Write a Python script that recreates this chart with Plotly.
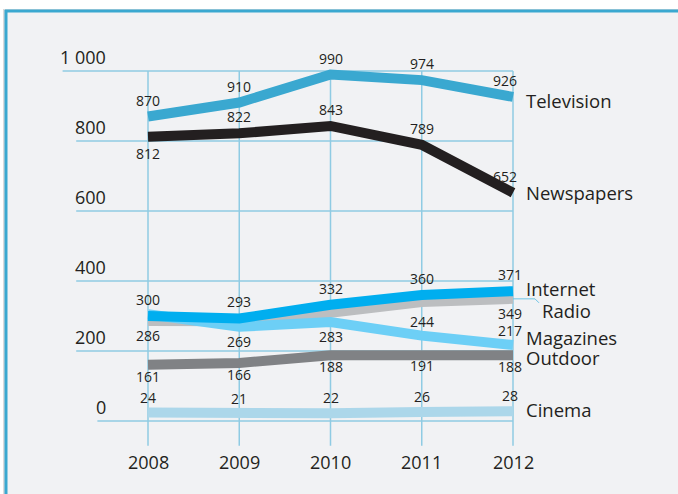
import plotly.graph_objects as go

# --- data ---
years = [2008, 2009, 2010, 2011, 2012]
television = [870, 910, 990, 974, 926]
newspapers = [812, 822, 843, 789, 652]
internet = [300, 293, 332, 360, 371]
radio = [286, 285, 309, 340, 349]
magazines = [305, 269, 283, 244, 217]
outdoor = [161, 166, 188, 191, 188]
cinema = [24, 21, 22, 26, 28]

# value labels printed at the points ("" = no label)
television_lbl = ["870", "910", "990", "974", "926"]
newspapers_lbl = ["812", "822", "843", "789", "652"]
internet_lbl = ["300", "293", "332", "360", "371"]
radio_lbl = ["286", "", "", "", "349"]
magazines_lbl = ["", "269", "283", "244", "217"]
outdoor_lbl = ["161", "166", "188", "191", "188"]
cinema_lbl = ["24", "21", "22", "26", "28"]

y_ticks = [0, 200, 400, 600, 800, 1000]
y_tick_text = ["0", "200", "400", "600", "800", "1 000"]

TXT = "#231f20"
GRID = "#8fcbe3"
FONT = "Open Sans"

# name, values, labels, colour, label side (u/d), label gap, name-label shifts (x, y)
series = [
    ("Cinema", cinema, cinema_lbl, "#acd7ea", "uuuuu", 4, (11, 2)),
    ("Outdoor", outdoor, outdoor_lbl, "#808285", "ddddd", 0, (11, -2)),
    ("Radio", radio, radio_lbl, "#bcbec0", "ddddd", 3, (27, -12)),
    ("Magazines", magazines, magazines_lbl, "#6dcff6", "ddduu", 3, (11, 8)),
    ("Internet", internet, internet_lbl, "#00aeef", "uuuuu", 5, (11, 3)),
    ("Newspapers", newspapers, newspapers_lbl, "#231f20", "duuuu", 5, (11, 0)),
    ("Television", television, television_lbl, "#3aa8d0", "uuuuu", 5, (11, -4)),
]

fig = go.Figure()

# panel background and frame
shapes = [
    dict(type="rect", xref="paper", yref="paper", x0=3 / 678, x1=1.01, y0=-0.01, y1=1 - 9 / 494,
         fillcolor="#d9dadc", line_width=0, layer="below"),
    dict(type="rect", xref="paper", yref="paper", x0=5 / 678, x1=1.01, y0=-0.01, y1=1 - 10 / 494,
         fillcolor="#f1f2f4", line_width=0, layer="below"),
    dict(type="line", xref="paper", yref="paper", x0=5 / 678, x1=1.01, y0=1 - 11 / 494, y1=1 - 11 / 494,
         line=dict(color="#3aa8d0", width=3), layer="below"),
    dict(type="line", xref="paper", yref="paper", x0=6 / 678, x1=6 / 678, y0=-0.01, y1=1 - 10 / 494,
         line=dict(color="#3aa8d0", width=3), layer="below"),
]

px_per_year = 91.25
px_per_unit = 0.35

# horizontal grid lines, starting under their tick label
for v, t in zip(y_ticks, y_tick_text):
    w = 10.6 * sum(c.isdigit() for c in t) + 3 * t.count(" ")
    x0 = years[0] - (40 + w) / px_per_year
    shapes.append(dict(type="line", xref="x", yref="y", x0=x0, x1=years[-1], y0=v, y1=v,
                       line=dict(color=GRID, width=1.5), layer="below"))
# vertical grid lines
for yr in years:
    shapes.append(dict(type="line", xref="x", yref="y", x0=yr, x1=yr, y0=-71, y1=y_ticks[-1],
                       line=dict(color=GRID, width=1.5), layer="below"))

# small connector to the Radio name label
rv = radio[-1]
shapes.append(dict(type="path", xref="x", yref="y",
                   path=f"M {years[-1]},{rv} L {years[-1] + 22 / px_per_year},{rv} "
                        f"L {years[-1] + 26 / px_per_year},{rv - 4 / px_per_unit}",
                   line=dict(color="#6cc4e6", width=1)))

annotations = []
for v, t in zip(y_ticks, y_tick_text):
    annotations.append(dict(x=years[0], y=v, xref="x", yref="y", text=t, showarrow=False,
                            xanchor="right", yanchor="bottom", xshift=-40, yshift=0,
                            font=dict(family=FONT, size=18, color=TXT)))
for yr in years:
    annotations.append(dict(x=yr, y=-71, xref="x", yref="y", text=str(yr), showarrow=False,
                            xanchor="center", yanchor="top", yshift=-2,
                            font=dict(family=FONT, size=18, color=TXT)))

for name, vals, lbls, color, sides, gap, (nx, ny) in series:
    fig.add_trace(go.Scatter(x=years, y=vals, mode="lines", name=name,
                             line=dict(color=color, width=10), hoverinfo="skip"))
    for i, (yr, v, lb) in enumerate(zip(years, vals, lbls)):
        if not lb:
            continue
        up = sides[i] == "u"
        xs = 0
        if i == len(years) - 1:
            xs = -8 if name in ("Television", "Newspapers") else -3
        annotations.append(dict(x=yr, y=v, xref="x", yref="y", text=lb, showarrow=False,
                                xanchor="center", yanchor="bottom" if up else "top",
                                yshift=gap if up else -gap, xshift=xs,
                                font=dict(family=FONT, size=14, color=TXT)))
    annotations.append(dict(x=years[-1], y=vals[-1], xref="x", yref="y", text=name,
                            showarrow=False, xanchor="left", yanchor="middle",
                            xshift=nx, yshift=ny,
                            font=dict(family=FONT, size=18.5, color=TXT)))

fig.update_layout(
    width=678, height=494,
    margin=dict(l=0, r=0, t=0, b=0),
    paper_bgcolor="white", plot_bgcolor="rgba(0,0,0,0)",
    showlegend=False,
    xaxis=dict(range=[years[0] - 148 / px_per_year, years[0] + 530 / px_per_year],
               visible=False, fixedrange=True),
    yaxis=dict(range=[-73 / px_per_unit, 421 / px_per_unit], visible=False, fixedrange=True),
    shapes=shapes,
    annotations=annotations,
)

fig.write_html("out.html", config={"displayModeBar": False},
               post_script="document.body.style.margin='0';")
